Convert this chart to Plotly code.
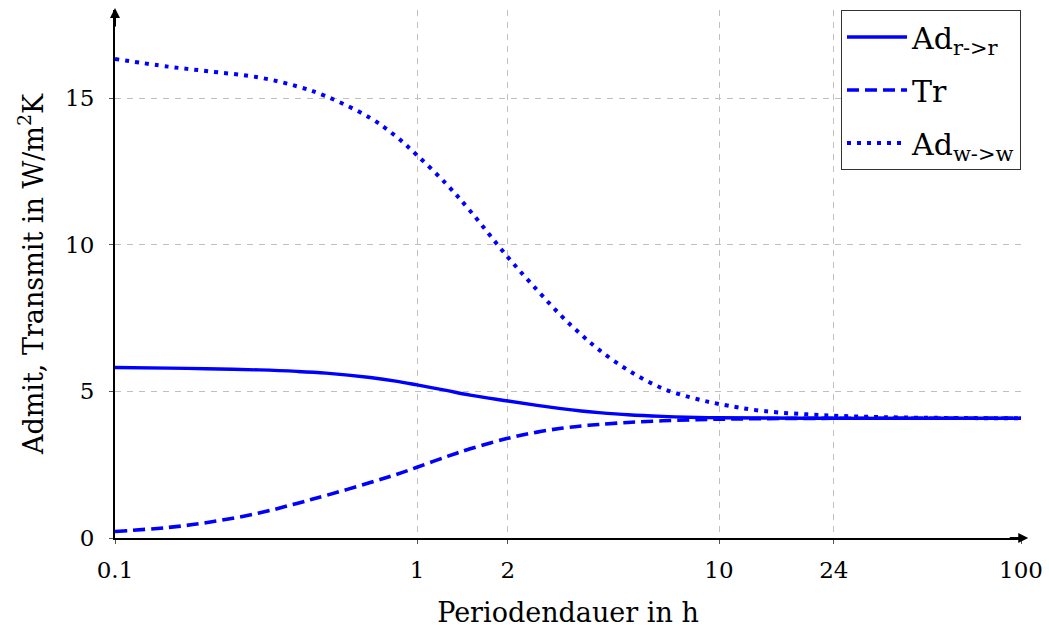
import plotly.graph_objects as go

# Period (h)
period = [0.1, 0.15, 0.2, 0.3, 0.4, 0.5, 0.7, 0.85, 1, 1.25, 1.5, 2, 2.5, 3, 3.5, 4,
          5, 6.5, 8.5, 10, 14, 24, 40, 100]
# Admittance r->r
ad_rr = [5.81, 5.79, 5.77, 5.73, 5.68, 5.62, 5.47, 5.35, 5.22, 5.03, 4.87, 4.67, 4.52, 4.41,
         4.33, 4.275, 4.20, 4.145, 4.11, 4.10, 4.09, 4.08, 4.08, 4.08]
# Transmittance
tr = [0.22, 0.36, 0.52, 0.85, 1.18, 1.45, 1.89, 2.16, 2.41, 2.77, 3.04, 3.40, 3.61, 3.74,
      3.82, 3.87, 3.94, 3.995, 4.035, 4.05, 4.07, 4.08, 4.08, 4.08]
# Admittance w->w
ad_ww = [16.33, 16.07, 15.92, 15.70, 15.40, 15.06, 14.32, 13.70, 13.05, 12.07, 11.15, 9.57,
         8.45, 7.58, 6.93, 6.42, 5.72, 5.10, 4.73, 4.57, 4.33, 4.17, 4.11, 4.08]

x_ticks = [0.1, 1, 2, 10, 24, 100]
x_ticktext = ["0.1", "1", "2", "10", "24", "100"]
y_ticks = [0, 5, 10, 15]

FONT = "DejaVu Serif"
BLUE = "rgb(0,0,255)"

fig = go.Figure()
fig.add_trace(go.Scatter(x=period, y=ad_rr, mode="lines", name="Ad<sub>r-&gt;r</sub>",
                         legendgroup="a",
                         line=dict(color=BLUE, width=3.4, shape="spline")))
fig.add_trace(go.Scatter(x=period, y=tr, mode="lines", name="Tr", legendgroup="b",
                         line=dict(color=BLUE, width=3.6, dash="12px,6px", shape="spline")))
fig.add_trace(go.Scatter(x=period, y=ad_ww, mode="lines", name="Ad<sub>w-&gt;w</sub>",
                         legendgroup="c",
                         line=dict(color=BLUE, width=4, dash="4px,6px", shape="spline")))

fig.update_layout(
    width=1049, height=628,
    margin=dict(l=115, r=28, t=10, b=90, autoexpand=False),
    paper_bgcolor="white", plot_bgcolor="white",
    font=dict(family=FONT, size=23, color="black"),
    showlegend=True,
    legend=dict(x=1, y=1, xanchor="right", yanchor="top",
                bgcolor="white", bordercolor="#333333", borderwidth=1,
                font=dict(family=FONT, size=30), itemwidth=60,
                tracegroupgap=11),
)
fig.update_xaxes(
    type="log", range=[-1, 2], tickvals=x_ticks, ticktext=x_ticktext,
    showgrid=True, gridcolor="#c0c0c0", gridwidth=1, griddash="6px,6px",
    showline=True, linecolor="black", linewidth=2, zeroline=False,
    ticks="outside", ticklen=4, tickcolor="#555555", ticklabelstandoff=6,
    automargin=False,
    title=dict(text="Periodendauer in h", font=dict(family=FONT, size=27), standoff=22),
)
fig.update_yaxes(
    range=[0, 18], tickvals=y_ticks,
    showgrid=True, gridcolor="#c0c0c0", gridwidth=1, griddash="6px,6px",
    showline=True, linecolor="black", linewidth=2, zeroline=False,
    ticks="outside", ticklen=4, tickcolor="#555555", ticklabelstandoff=10,
    automargin=False,
    title=dict(text="Admit, Transmit in W/m<sup>2</sup>K", font=dict(family=FONT, size=27),
               standoff=14),
)
# axis arrows
fig.add_annotation(x=0, y=1.004, xref="paper", yref="paper", ax=0, ay=20,
                   showarrow=True, arrowhead=2, arrowsize=1, arrowwidth=2, arrowcolor="black",
                   text="")
fig.add_annotation(x=1.008, y=0, xref="paper", yref="paper", ax=-20, ay=0,
                   showarrow=True, arrowhead=2, arrowsize=1, arrowwidth=2, arrowcolor="black",
                   text="")

fig.write_html("out.html")
